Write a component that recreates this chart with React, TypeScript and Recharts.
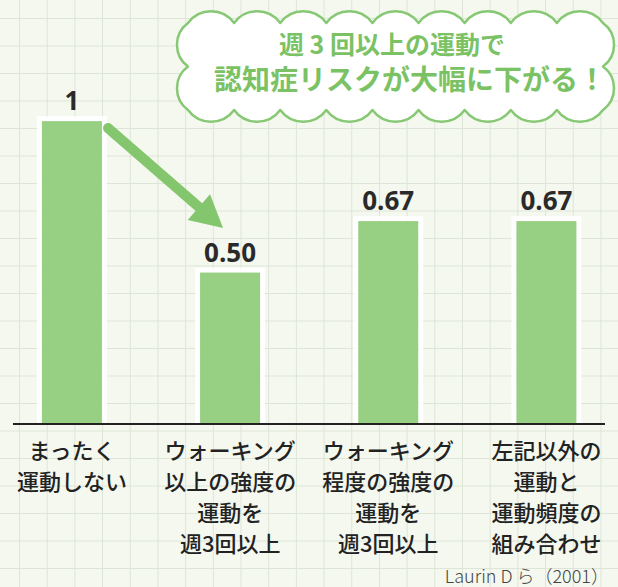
import { Bar, BarChart, LabelList, ReferenceLine, XAxis, YAxis } from 'recharts'

// 運動習慣別の認知症リスク (Laurin D ら 2001)
const categories = [
  'まったく運動しない',
  'ウォーキング以上の強度の運動を週3回以上',
  'ウォーキング程度の強度の運動を週3回以上',
  '左記以外の運動と運動頻度の組み合わせ',
]
const categoryLines = [
  ['まったく', '運動しない'],
  ['ウォーキング', '以上の強度の', '運動を', '週3回以上'],
  ['ウォーキング', '程度の強度の', '運動を', '週3回以上'],
  ['左記以外の', '運動と', '運動頻度の', '組み合わせ'],
]
const riskValues = [1, 0.5, 0.67, 0.67]
const valueLabels = ['1', '0.50', '0.67', '0.67']
const headline = ['週 3 回以上の運動で', '認知症リスクが大幅に下がる！']
const source = 'Laurin D ら（2001）'

const BAR = '#97cf83'
const GREEN = '#84c66e'
const JP = '"Noto Sans CJK JP", "Noto Sans", sans-serif'

const datos = categories.map((c, i) => ({
  idx: i,
  name: c,
  value: riskValues[i],
  label: valueLabels[i],
}))

const BarConHalo = (p: any) => {
  const { x, y, width, height } = p
  return (
    <g>
      <rect x={x - 5} y={y - 5} width={width + 10} height={height + 5} fill="#fff" opacity={0.9} />
      <rect x={x} y={y} width={width} height={height} fill={BAR} />
    </g>
  )
}

const TickCategoria = (p: any) => {
  const lines = categoryLines[p.payload.value] ?? []
  return (
    <text x={p.x} y={p.y + 35} textAnchor="middle" fill="#222" fontSize={22} fontWeight={500} fontFamily={JP}>
      {lines.map((t, i) => (
        <tspan key={i} x={p.x} dy={i === 0 ? 0 : 31}>
          {t}
        </tspan>
      ))}
    </text>
  )
}

const Flecha = (p: any) => {
  const { x1, y1, x2, y2 } = p
  const dx = x2 - x1
  const dy = y2 - y1
  const len = Math.hypot(dx, dy) || 1
  const ux = dx / len
  const uy = dy / len
  const L = 32
  const W = 17
  const bx = x2 - ux * L
  const by = y2 - uy * L
  return (
    <g>
      <line x1={x1} y1={y1} x2={bx + ux * 2} y2={by + uy * 2} stroke={GREEN} strokeWidth={10} strokeLinecap="round" />
      <polygon
        points={`${x2},${y2} ${bx - uy * W},${by + ux * W} ${bx + uy * W},${by - ux * W}`}
        fill={GREEN}
      />
    </g>
  )
}

function nube(x0: number, y0: number, x1: number, y1: number, nx: number, ny: number) {
  const cx = (x1 - x0) / nx
  const cy = (y1 - y0) / ny
  const rx = cx * 0.62
  const ry = cy * 0.62
  let d = `M${x0},${y0}`
  for (let i = 1; i <= nx; i++) d += ` A${rx},${rx} 0 0 1 ${x0 + i * cx},${y0}`
  for (let j = 1; j <= ny; j++) d += ` A${ry},${ry} 0 0 1 ${x1},${y0 + j * cy}`
  for (let i = 1; i <= nx; i++) d += ` A${rx},${rx} 0 0 1 ${x1 - i * cx},${y1}`
  for (let j = 1; j <= ny; j++) d += ` A${ry},${ry} 0 0 1 ${x0},${y1 - j * cy}`
  return d + ' Z'
}

export default function App() {
  return (
    <div
      style={{
        position: 'absolute',
        left: 0,
        top: 0,
        width: 618,
        height: 587,
        overflow: 'hidden',
        backgroundColor: '#f5f8ef',
        backgroundImage:
          'linear-gradient(to right, #dde5d6 1px, transparent 1px), linear-gradient(to bottom, #dde5d6 1px, transparent 1px)',
        backgroundSize: '27.7px 27.5px',
        backgroundPosition: '19px 18px',
      }}
    >
      <BarChart width={618} height={587} data={datos} margin={{ top: 0, right: 13, bottom: 13, left: 13 }}>
        <XAxis
          type="number"
          dataKey="idx"
          domain={[-0.373, 3.37]}
          allowDataOverflow
          ticks={[0, 1, 2, 3]}
          interval={0}
          height={150}
          tickSize={0}
          tickMargin={0}
          tickLine={false}
          axisLine={{ stroke: '#222', strokeWidth: 2 }}
          tick={<TickCategoria />}
        />
        <YAxis hide domain={[0, 1.4]} allowDataOverflow />
        <Bar dataKey="value" barSize={60} shape={<BarConHalo />} isAnimationActive={false}>
          <LabelList
            dataKey="label"
            position="top"
            offset={11}
            fill="#2a2a2a"
            fontSize={26}
            fontWeight={700}
            fontFamily='"Open Sans", Lato, sans-serif'
          />
        </Bar>
        <ReferenceLine
          segment={[
            { x: 0.228, y: 0.977 },
            { x: 0.955, y: 0.647 },
          ]}
          shape={<Flecha />}
        />
      </BarChart>
      <svg width={618} height={587} style={{ position: 'absolute', left: 0, top: 0, pointerEvents: 'none' }}>
        <path d={nube(188, 23, 603, 110, 9, 2)} fill="#fff" stroke="#86c873" strokeWidth={2.5} strokeLinejoin="round" />
        <text x={392} y={54} textAnchor="middle" fill="#7ac263" fontSize={25} fontWeight={700} fontFamily={JP}>
          {headline[0]}
        </text>
        <text x={410} y={90} textAnchor="middle" fill="#7ac263" fontSize={28} fontWeight={700} fontFamily={JP}>
          {headline[1]}
        </text>
        <text x={609} y={583} textAnchor="end" fill="#444" fontSize={18} fontWeight={300} fontFamily={JP}>
          {source}
        </text>
      </svg>
    </div>
  )
}
